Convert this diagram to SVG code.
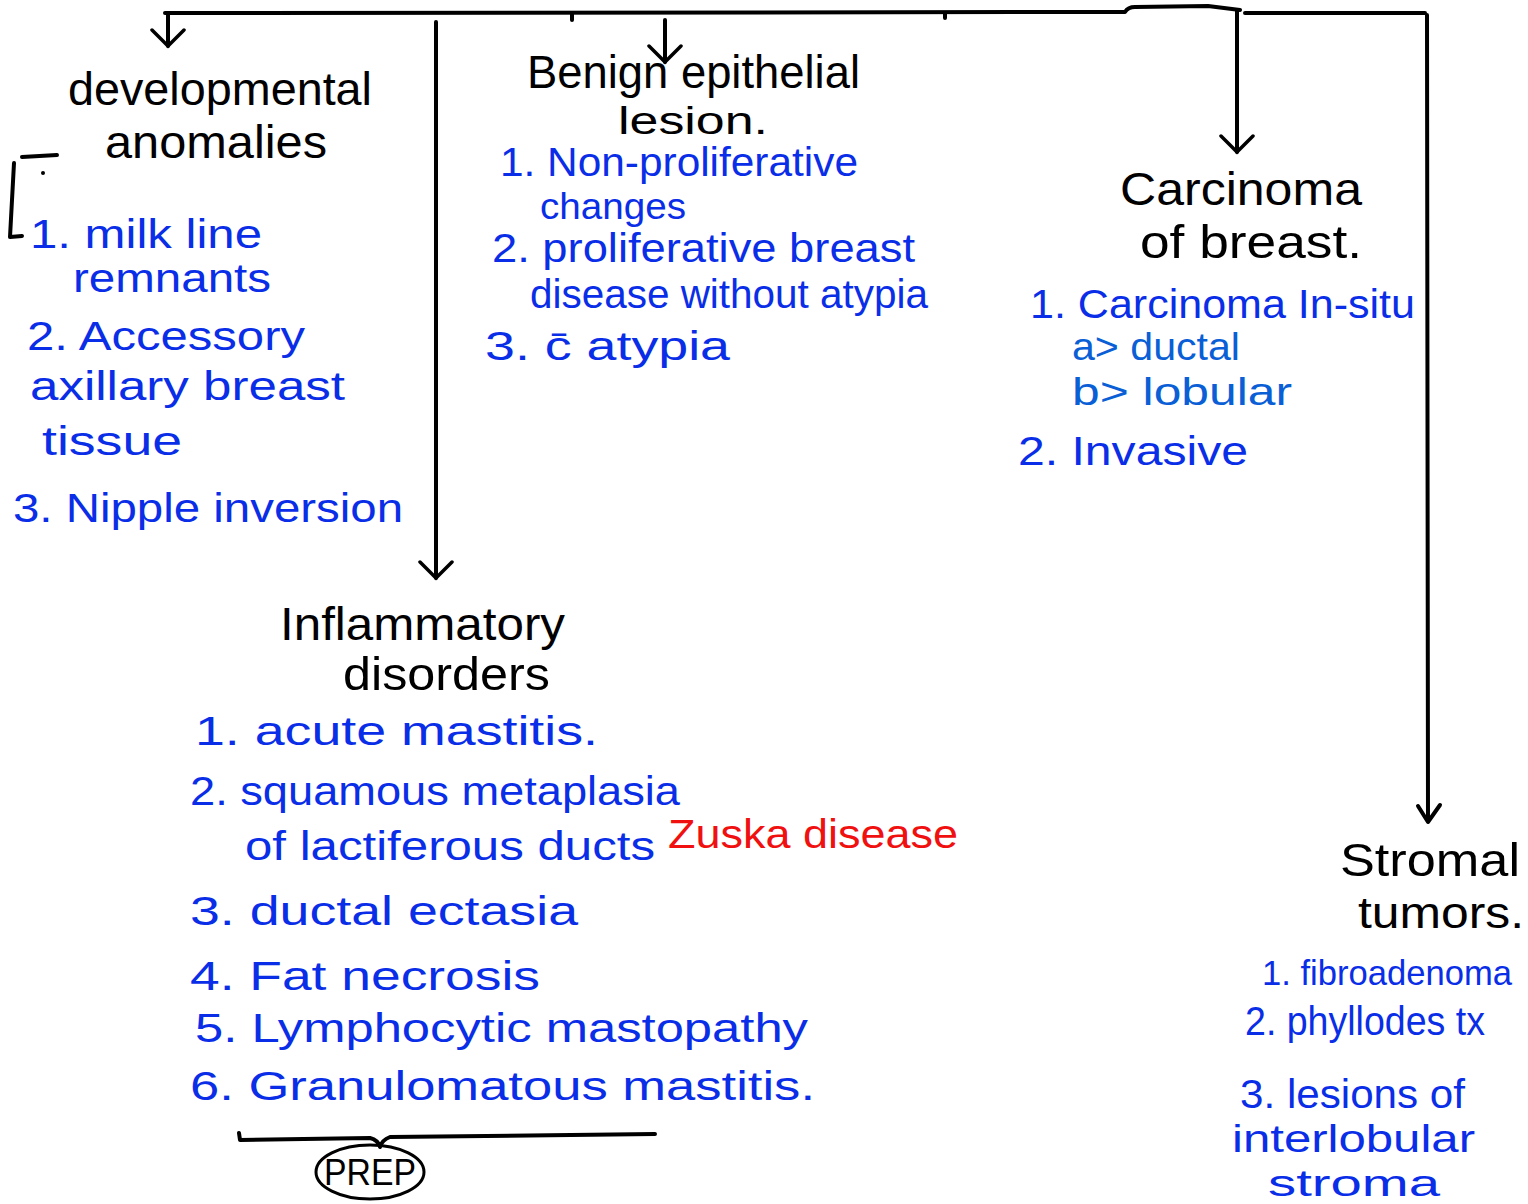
<svg xmlns="http://www.w3.org/2000/svg" width="1528" height="1204" viewBox="0 0 1528 1204">
<style>
.h{font-family:"Liberation Sans",Arial,sans-serif;font-size:46px;fill:#000}
.b{font-family:"Liberation Sans",Arial,sans-serif;font-size:40px;fill:#0a2ee8}
.b2{font-family:"Liberation Sans",Arial,sans-serif;font-size:38px;fill:#0a5fd6}
.r{font-family:"Liberation Sans",Arial,sans-serif;font-size:40px;fill:#f01010}
.ln{fill:none;stroke:#000;stroke-width:4;stroke-linecap:round;stroke-linejoin:round}
</style>
<defs>
<marker id="ahd" viewBox="0 0 36 24" refX="18" refY="20" markerWidth="36" markerHeight="24" markerUnits="userSpaceOnUse" orient="0">
<path d="M2 4 L18 20 L34 4" fill="none" stroke="#000" stroke-width="3.5" stroke-linecap="round"/>
</marker>
</defs>
<rect width="1528" height="1204" fill="#fff"/>
<g id="connectors">
<path class="ln" d="M165 13 L1125 12 Q1128 7 1135 7 L1208 6 L1240 10 M1245 13 L1425 13"/>
<path class="ln" d="M572 13 L572 20 M945 13 L945 18"/>
<path class="ln" d="M168 13 L168 46" marker-end="url(#ahd)"/>
<path class="ln" d="M436 22 L436 578" marker-end="url(#ahd)"/>
<path class="ln" d="M665 20 L665 62" marker-end="url(#ahd)"/>
<path class="ln" d="M1237 10 L1237 152" marker-end="url(#ahd)"/>
<path class="ln" d="M1427 15 L1428 820"/>
<path class="ln" d="M1418 806 L1428 822 L1440 805"/>
<path class="ln" d="M22 157 L57 155 M14 163 L10 237 L22 236"/>
<circle cx="43" cy="173" r="2" fill="#000"/>
<path class="ln" d="M239 1133 L240 1140 L370 1138 Q378 1140 380 1147 Q382 1140 390 1137 L655 1134" stroke-width="3"/>
</g>
<g id="developmental">
<text class="h" x="68" y="105" textLength="304" lengthAdjust="spacingAndGlyphs">developmental</text>
<text class="h" x="105" y="158" textLength="222" lengthAdjust="spacingAndGlyphs">anomalies</text>
<text class="b" x="30" y="248" textLength="232" lengthAdjust="spacingAndGlyphs">1. milk line</text>
<text class="b" x="73" y="292" textLength="198" lengthAdjust="spacingAndGlyphs">remnants</text>
<text class="b" x="27" y="350" textLength="278" lengthAdjust="spacingAndGlyphs">2. Accessory</text>
<text class="b" x="30" y="400" textLength="315" lengthAdjust="spacingAndGlyphs">axillary breast</text>
<text class="b" x="42" y="455" textLength="140" lengthAdjust="spacingAndGlyphs">tissue</text>
<text class="b" x="13" y="522" textLength="390" lengthAdjust="spacingAndGlyphs">3. Nipple inversion</text>
</g>
<g id="benign">
<text class="h" x="527" y="88" textLength="333" lengthAdjust="spacingAndGlyphs">Benign epithelial</text>
<text class="h" x="618" y="134" style="font-size:38px" textLength="150" lengthAdjust="spacingAndGlyphs">lesion.</text>
<text class="b" x="500" y="176" textLength="358" lengthAdjust="spacingAndGlyphs">1. Non-proliferative</text>
<text class="b" x="540" y="219" style="font-size:36px" textLength="146" lengthAdjust="spacingAndGlyphs">changes</text>
<text class="b" x="492" y="262" textLength="423" lengthAdjust="spacingAndGlyphs">2. proliferative breast</text>
<text class="b" x="530" y="308" textLength="398" lengthAdjust="spacingAndGlyphs">disease without atypia</text>
<text class="b" x="485" y="360" textLength="245" lengthAdjust="spacingAndGlyphs">3. c̄ atypia</text>
</g>
<g id="carcinoma">
<text class="h" x="1120" y="205" textLength="242" lengthAdjust="spacingAndGlyphs">Carcinoma</text>
<text class="h" x="1140" y="258" textLength="222" lengthAdjust="spacingAndGlyphs">of breast.</text>
<text class="b" x="1030" y="318" textLength="385" lengthAdjust="spacingAndGlyphs">1. Carcinoma In-situ</text>
<text class="b2" x="1072" y="360" textLength="168" lengthAdjust="spacingAndGlyphs">a&gt; ductal</text>
<text class="b2" x="1072" y="405" textLength="220" lengthAdjust="spacingAndGlyphs">b&gt; lobular</text>
<text class="b" x="1018" y="465" textLength="230" lengthAdjust="spacingAndGlyphs">2. Invasive</text>
</g>
<g id="inflammatory">
<text class="h" x="280" y="640" textLength="285" lengthAdjust="spacingAndGlyphs">Inflammatory</text>
<text class="h" x="343" y="690" textLength="207" lengthAdjust="spacingAndGlyphs">disorders</text>
<text class="b" x="195" y="745" textLength="403" lengthAdjust="spacingAndGlyphs">1. acute mastitis.</text>
<text class="b" x="190" y="805" textLength="490" lengthAdjust="spacingAndGlyphs">2. squamous metaplasia</text>
<text class="b" x="245" y="860" textLength="410" lengthAdjust="spacingAndGlyphs">of lactiferous ducts</text>
<text class="r" x="668" y="848" textLength="290" lengthAdjust="spacingAndGlyphs">Zuska disease</text>
<text class="b" x="190" y="925" textLength="388" lengthAdjust="spacingAndGlyphs">3. ductal ectasia</text>
<text class="b" x="190" y="990" textLength="350" lengthAdjust="spacingAndGlyphs">4. Fat necrosis</text>
<text class="b" x="195" y="1042" textLength="613" lengthAdjust="spacingAndGlyphs">5. Lymphocytic mastopathy</text>
<text class="b" x="190" y="1100" textLength="625" lengthAdjust="spacingAndGlyphs">6. Granulomatous mastitis.</text>
</g>
<g id="prep">
<ellipse cx="370" cy="1172" rx="54" ry="27" fill="none" stroke="#000" stroke-width="3"/>
<text class="h" x="370" y="1185" text-anchor="middle" style="font-size:36px" textLength="92" lengthAdjust="spacingAndGlyphs">PREP</text>
</g>
<g id="stromal">
<text class="h" x="1340" y="876" textLength="180" lengthAdjust="spacingAndGlyphs">Stromal</text>
<text class="h" x="1358" y="928" style="font-size:44px" textLength="166" lengthAdjust="spacingAndGlyphs">tumors.</text>
<text class="b" x="1262" y="985" style="font-size:35px" textLength="250" lengthAdjust="spacingAndGlyphs">1. fibroadenoma</text>
<text class="b" x="1245" y="1035" textLength="240" lengthAdjust="spacingAndGlyphs">2. phyllodes tx</text>
<text class="b" x="1240" y="1108" textLength="225" lengthAdjust="spacingAndGlyphs">3. lesions of</text>
<text class="b" x="1232" y="1152" style="font-size:38px" textLength="243" lengthAdjust="spacingAndGlyphs">interlobular</text>
<text class="b" x="1268" y="1196" style="font-size:36px" textLength="172" lengthAdjust="spacingAndGlyphs">stroma</text>
</g>
</svg>
